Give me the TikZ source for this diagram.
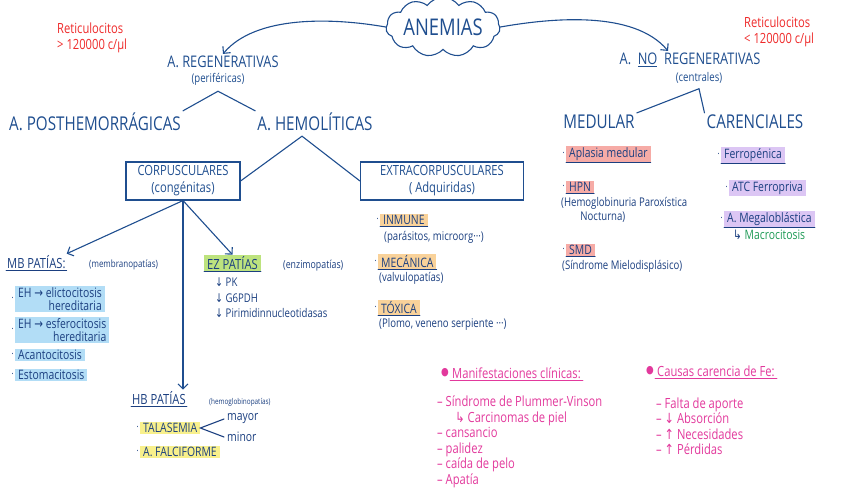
\documentclass[tikz,border=0pt]{standalone}
\usepackage{fontspec}
\setmainfont{Open Sans}[FakeStretch=0.8]
\newfontfamily\sym{DejaVu Sans}[FakeStretch=0.8]
\usetikzlibrary{arrows.meta,shapes.symbols}
\definecolor{ink}{HTML}{1F4E8F}
\definecolor{navy}{HTML}{1B3F80}
\definecolor{retred}{HTML}{EE2A2A}
\definecolor{mag}{HTML}{E2399C}
\definecolor{macgreen}{HTML}{1E9A55}
\definecolor{hlblue}{HTML}{B2DDF6}
\definecolor{hlgreen}{HTML}{BDE37E}
\definecolor{hlyellow}{HTML}{F8F08C}
\definecolor{hlorange}{HTML}{F9D29A}
\definecolor{hlpink}{HTML}{F6ABA6}
\definecolor{hlpurple}{HTML}{DCC6F4}
\newcommand{\fsz}[2]{\fontsize{#1}{#2}\selectfont}

\begin{document}
\begin{tikzpicture}[
  x=1pt, y=-1pt, line cap=round,
  hd/.style={text=ink, font=\fsz{19}{22}, inner sep=2pt},
  sb/.style={text=ink, font=\fsz{12}{14}, inner sep=1pt},
  bx/.style={draw=ink, line width=1.1pt, text=ink, align=center, font=\fsz{14}{17}, inner sep=2pt},
  ln/.style={draw=ink, line width=1.1pt},
  arr/.style={ln, -{Straight Barb[length=5pt,width=10pt]}},
  itm/.style={text=navy, font=\fsz{13}{12.5}, anchor=west, inner xsep=3pt, inner ysep=1.5pt},
  hl/.style={itm, fill=#1},
  dot/.style={label={[text=navy, inner sep=1pt]left:·}},
  ul/.style={append after command={(\tikzlastnode.south west) edge[draw=#1, line width=0.9pt] (\tikzlastnode.south east)}},
  ul/.default=navy,
  rd/.style={text=retred, font=\fsz{14}{16}, align=left, anchor=west, inner sep=0pt},
  mg/.style={text=mag, font=\fsz{14}{15.5}, align=left, anchor=west, inner sep=0pt},
  bul/.style={label={[text=mag, inner sep=1pt, font=\sym\fsz{11}{11}]left:●}}
]
\useasboundingbox (0,0) rectangle (848,489);
% top: anemias and the two big groups
\node[cloud, cloud puffs=11, cloud puff arc=110, aspect=2.5, draw=ink, line width=1.1pt, text=ink, font=\fsz{23}{23}, minimum width=106, minimum height=44, inner sep=0pt] (anem) at (443,27) {ANEMIAS};
\node[rd] (retlo) at (57,38) {Reticulocitos\\> 120000 c/μl};
\node[rd] (rethi) at (744,32) {Reticulocitos\\< 120000 c/μl};
\node[hd, font=\fsz{16}{18}] (reg) at (223,62) {A. REGENERATIVAS};
\node[sb] (regsub) at (218,79) {(periféricas)};
\node[hd] (posth) at (95,122) {A. POSTHEMORRÁGICAS};
\node[hd] (hemo) at (315,122) {A. HEMOLÍTICAS};
\node[hd, font=\fsz{16}{18}] (nor) at (690,60) {A.\ \ \underline{NO}\ \ REGENERATIVAS};
\node[sb] (norsub) at (699,78) {(centrales)};
\node[hd] (medu) at (599,122) {MEDULAR};
\node[hd] (caren) at (755,122) {CARENCIALES};
\node[bx, minimum width=114, minimum height=38] (corp) at (183,181) {CORPUSCULARES\\(congénitas)};
\node[bx, minimum width=163, minimum height=38] (extra) at (442,181) {EXTRACORPUSCULARES\\( Adquiridas)};
% membranopatias
\node[itm, font=\fsz{14}{14}, ul, inner xsep=1pt] (mb) at (6,262) {MB PATÍAS:};
\node[itm, font=\fsz{10}{10}] (mbsub) at (86,265) {(membranopatías)};
\node[hl=hlblue, dot, align=right] (eli) at (15,299) {EH {\sym→} elictocitosis\\hereditaria};
\node[hl=hlblue, dot, align=right] (esf) at (15,330) {EH {\sym→} esferocitosis\\hereditaria};
\node[hl=hlblue, dot] (acan) at (15,355) {Acantocitosis};
\node[hl=hlblue, dot] (esto) at (15,375) {Estomacitosis};
% enzimopatias
\node[hl=hlgreen, ul, font=\fsz{14}{14}] (ez) at (204,263) {EZ PATÍAS};
\node[itm, font=\fsz{11}{11}] (ezsub) at (280,266) {(enzimopatías)};
\node[itm, align=left, font=\fsz{12}{15.5}] (ezlist) at (212,298) {{\sym↓} PK\\{\sym↓} G6PDH\\{\sym↓} Pirimidinnucleotidasas};
% hemoglobinopatias
\node[itm, ul, font=\fsz{14}{14}, inner xsep=1pt] (hb) at (131,398) {HB PATÍAS};
\node[itm, font=\fsz{8}{8}] (hbsub) at (206,402) {(hemoglobinopatías)};
\node[hl=hlyellow, dot] (tal) at (140,428) {TALASEMIA};
\node[itm] (mayor) at (224,419) {mayor};
\node[itm] (minor) at (224,437) {minor};
\node[hl=hlyellow, dot] (falc) at (140,452) {A. FALCIFORME};
% extracorpusculares
\node[hl=hlorange, ul, dot] (inm) at (380,220) {INMUNE};
\node[itm, font=\fsz{12}{12}] (inmsub) at (381,237) {(parásitos, microorg···)};
\node[hl=hlorange, ul, dot] (mec) at (378,262) {MECÁNICA};
\node[itm, font=\fsz{12}{12}] (mecsub) at (376,278) {(valvulopatías)};
\node[hl=hlorange, ul, dot] (tox) at (378,308) {TÓXICA};
\node[itm, font=\fsz{12}{12}] (toxsub) at (376,324) {(Plomo, veneno serpiente ···)};
% medular / carenciales
\node[hl=hlpink, ul, dot] (apl) at (566,154) {Aplasia medular};
\node[hl=hlpink, ul, dot] (hpn) at (566,187) {HPN};
\node[itm, align=left, font=\fsz{12}{14}] (hpnsub) at (558,210) {(Hemoglobinuria Paroxística\\\hspace{1.6em}Nocturna)};
\node[hl=hlpink, ul, dot] (smd) at (566,250) {SMD};
\node[itm, font=\fsz{12}{12}] (smdsub) at (559,266) {(Síndrome Mielodisplásico)};
\node[hl=hlpurple, ul, dot] (ferr) at (721,155) {Ferropénica};
\node[hl=hlpurple, dot] (atc) at (729,188) {ATC Ferropriva};
\node[hl=hlpurple, ul, dot] (mega) at (724,219) {A. Megaloblástica};
\node[itm, text=macgreen] (macro) at (730,235) {{\sym\color{navy}↳} Macrocitosis};
% notes in pink
\node[mg, inner sep=2pt, ul=mag, bul] (manif) at (450,373) {Manifestaciones clínicas:};
\node[mg] (maniflist) at (437,442) {– Síndrome de Plummer-Vinson\\\hspace{1.3em}{\sym↳} Carcinomas de piel\\– cansancio\\– palidez\\– caída de pelo\\– Apatía};
\node[mg, inner sep=2pt, ul=mag, bul] (causas) at (655,371) {Causas carencia de Fe:};
\node[mg] (causlist) at (656,426) {– Falta de aporte\\– {\sym↓} Absorción\\– {\sym↑} Necesidades\\– {\sym↑} Pérdidas};
% connectors
\draw[arr] (anem.west) to[out=170, in=50, looseness=0.8] (reg.north);
\draw[arr] (anem.east) to[out=10, in=130, looseness=0.8] ([xshift=-22pt]nor.north);
\draw[ln] (posth.north east) -- ([yshift=-5pt]regsub.south) -- (hemo.north west);
\draw[ln] (corp.east) -- ([xshift=-13pt,yshift=-3pt]hemo.south) -- (extra.west);
\draw[ln] (medu.north east) -- ([yshift=-4pt]norsub.south) -- (caren.north west);
\draw[arr] (corp.south) -- (mb.north east);
\draw[arr] (corp.south) -- (ez.north);
\draw[arr] (corp.south) -- (corp.south |- hb.north);
\draw[ln, draw=navy] (mayor.west) -- (tal.east) -- (minor.west);
\end{tikzpicture}
\end{document}
